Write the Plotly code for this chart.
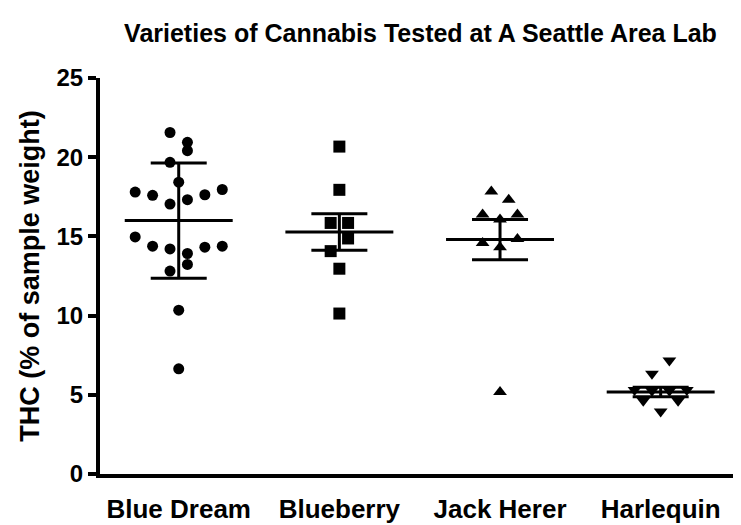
import plotly.graph_objects as go

# ---- data ----
categories = ["Blue Dream", "Blueberry", "Jack Herer", "Harlequin"]

blue_dream = [21.56, 20.94, 20.41, 19.68, 18.42, 17.80, 17.59, 17.04, 17.32, 17.63, 17.96,
              14.97, 14.38, 14.21, 13.92, 13.23, 14.32, 14.38, 12.81, 10.34, 6.64]
blueberry = [20.67, 17.94, 15.85, 15.85, 14.87, 14.07, 12.96, 10.13]
jack_herer = [17.84, 17.32, 16.38, 16.06, 16.38, 14.59, 14.84, 14.32, 5.17]
harlequin = [7.16, 6.33, 5.30, 5.25, 5.25, 5.30, 4.62, 4.62, 3.95]

means = [16.0, 15.28, 14.80, 5.17]
errors = [3.64, 1.15, 1.27, 0.30]

y_ticks = [0, 5, 10, 15, 20, 25]

# ---- jitter columns (style: horizontal spread within each category) ----
jitter_blue_dream = [-1, 1, 1, -1, 0, -5, -3, -1, 1, 3, 5, -5, -3, -1, 1, 1, 3, 5, -1, 0, 0]
jitter_blueberry = [0, 0, -1, 1, 1, -1, 0, 0]
jitter_jack_herer = [-1, 1, -2, 0, 2, -2, 2, 0, 0]
jitter_harlequin = [1, -1, -3, -1, 1, 3, -2, 2, 0]
JIT = 0.0542          # half-step spacing, in category units
MEAN_HALF = 0.336     # half-length of mean line, in category units

series = [
    (blue_dream, jitter_blue_dream, "circle", 11),
    (blueberry, jitter_blueberry, "square", 12),
    (jack_herer, jitter_jack_herer, "triangle-up", 12),
    (harlequin, jitter_harlequin, "triangle-down", 12),
]

FONT = "Arial, 'Liberation Sans', sans-serif"

# the page body adds an 8px offset; the figure is sized to compensate
W, H = 733, 517

fig = go.Figure()

for i, (vals, jit, sym, sz) in enumerate(series):
    fig.add_trace(go.Scatter(
        x=[i + j * JIT for j in jit], y=vals, mode="markers",
        marker=dict(symbol=sym, size=sz, color="black", line=dict(width=0)),
        showlegend=False, hoverinfo="y",
    ))

# mean lines
mx, my = [], []
for i, m in enumerate(means):
    mx += [i - MEAN_HALF, i + MEAN_HALF, None]
    my += [m, m, None]
fig.add_trace(go.Scatter(x=mx, y=my, mode="lines",
                         line=dict(color="black", width=3),
                         showlegend=False, hoverinfo="skip"))

# error bars
fig.add_trace(go.Scatter(
    x=list(range(len(categories))), y=means, mode="markers",
    marker=dict(size=1, color="rgba(0,0,0,0)"),
    error_y=dict(type="data", array=errors, symmetric=True,
                 color="black", thickness=3, width=28),
    showlegend=False, hoverinfo="skip",
))

fig.update_layout(
    width=W, height=H,
    margin=dict(l=92, r=0, t=70, b=51),
    paper_bgcolor="white", plot_bgcolor="white",
    font=dict(family=FONT, color="black"),
    title=dict(text="<b>Varieties of Cannabis Tested at A Seattle Area Lab</b>",
               x=0.5, xref="paper", xanchor="center",
               y=1 - 25 / H, yref="container", yanchor="middle",
               font=dict(family=FONT, size=25, color="black")),
    xaxis=dict(
        range=[-0.49, 3.5], tickmode="array",
        tickvals=list(range(len(categories))), ticktext=categories,
        showline=True, linecolor="black", linewidth=4,
        ticks="", showgrid=False, zeroline=False,
        tickfont=dict(family=FONT, size=26, weight="bold", color="black"),
        ticklabelstandoff=9,
    ),
    yaxis=dict(
        range=[0, 25], tickmode="array", tickvals=y_ticks,
        showline=True, linecolor="black", linewidth=4,
        ticks="outside", ticklen=8, tickwidth=4, tickcolor="black",
        showgrid=False, zeroline=False,
        tickfont=dict(family=FONT, size=24, weight="bold", color="black"),
        title=dict(text="<b>THC (% of sample weight)</b>",
                   font=dict(family=FONT, size=27, color="black"), standoff=10),
    ),
)

fig.write_html("out.html")
